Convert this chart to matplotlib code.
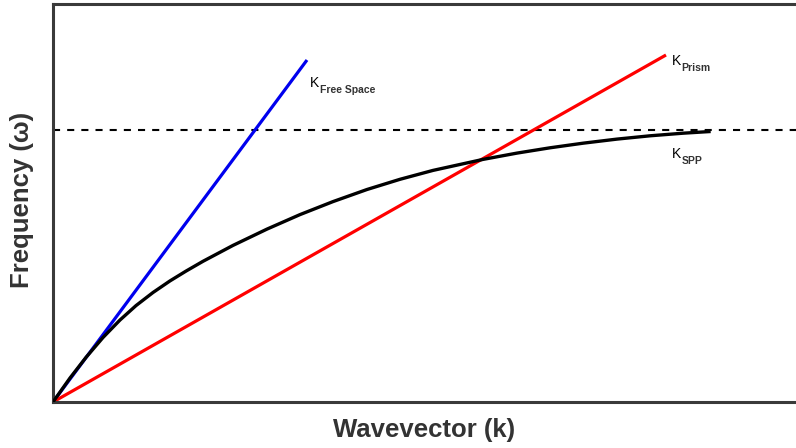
import matplotlib.pyplot as plt

plt.rcParams['font.family'] = ['Liberation Sans', 'DejaVu Sans']

# values (arbitrary units, origin at lower-left corner)
free_space_k = [0, 254]
free_space_w = [0, 342]

prism_k = [0, 613]
prism_w = [0, 347]

spp_k = [0, 17, 33, 50, 67, 83, 100, 117, 133, 150, 180, 214, 247, 280, 314,
         347, 380, 430, 464, 497, 530, 564, 597, 630, 656]
spp_w = [0, 24, 44.6, 64.5, 82, 96.4, 109.5, 121.1, 130.9, 140.7, 156.6, 172.9, 187.4, 200.4, 212.5,
         222.7, 231.6, 242.6, 248.9, 254.2, 258.8, 262.9, 266.2, 268.8, 270.4]

w_sp = 272  # asymptote of the surface plasmon branch

label_color = '#333333'

fig = plt.figure(figsize=(7.96, 4.48), dpi=100)
ax = fig.add_axes([53 / 796, 46 / 448, 747 / 796, 398 / 448])

# asymptote
ax.axhline(w_sp, color='black', lw=1.5, dashes=(3.4, 3.4), zorder=1)

ax.plot(free_space_k, free_space_w, color='#0000ee', lw=2.3, solid_capstyle='butt', zorder=2)
ax.plot(prism_k, prism_w, color='#ff0000', lw=2.3, solid_capstyle='butt', zorder=2)
ax.plot(spp_k, spp_w, color='black', lw=2.4, solid_capstyle='projecting',
        solid_joinstyle='round', zorder=3)

# line labels: K with a bold subscript
def k_label(x, y, sub):
    ax.text(x, y, 'K', fontsize=10, color='black', ha='left', va='baseline')
    ax.annotate(sub, xy=(x, y), xytext=(7.0, -4.5), textcoords='offset points',
                fontsize=7.5, fontweight='bold', color=label_color, ha='left', va='baseline')

k_label(257, 315, 'Free Space')
k_label(619, 337, 'Prism')
k_label(619, 244, 'SPP')

ax.set_xlim(0, 747)
ax.set_ylim(0, 398)
ax.set_xticks([])
ax.set_yticks([])

for side in ['left', 'bottom', 'top']:
    ax.spines[side].set_color('#3a3a3a')
    ax.spines[side].set_linewidth(2.2)
ax.spines['right'].set_visible(False)

ax.set_xlabel('Wavevector (k)', fontsize=18.5, fontweight='bold', color=label_color)
ax.set_ylabel('Frequency (\u03c9)', fontsize=18.5, fontweight='bold', color=label_color)
ax.xaxis.set_label_coords((424 - 53) / 747, -0.039)
ax.yaxis.set_label_coords(-0.026, 0.508)

fig.savefig('out.png', dpi=100)
